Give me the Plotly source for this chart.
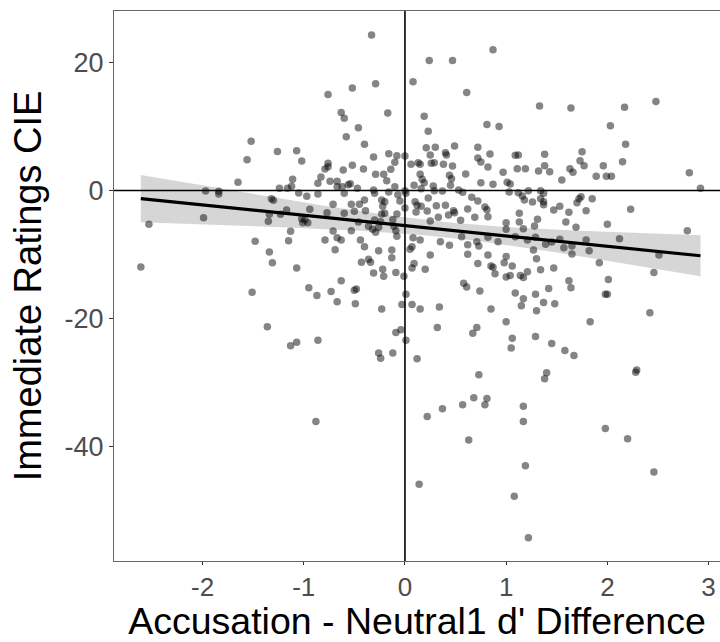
import numpy as np
import plotly.graph_objects as go

# Accusation - Neutral1 d' difference (x) and Immediate Ratings CIE (y)
x_vals = [
    -0.33, -0.76, -0.52, -0.29, -0.63, -0.60, -0.17, -0.46, -0.58, 0.87,
    0.24, 0.47, 0.08, 0.61, 0.19, 0.23, 0.81, 0.93, 1.33, 1.64,
    2.17, 2.48, 2.03, -1.52, -1.26, -1.07, -1.56, -1.02, -1.65, -1.11,
    -1.12, -1.97, -1.84, -1.84, -1.24, -1.16, -1.05, -0.97, -1.32, -1.30,
    -1.17, -0.94, -1.34, -1.23, -1.02, -0.99, -0.96, -1.01, -1.35, -1.99,
    -2.53, -1.13, -1.15, -1.48, -1.34,
    -0.40, 0.21, 0.30, 0.49, 0.72, 0.40, 0.41, 0.25, -0.16, -0.08,
    -0.31, 0.84, 1.09, 0.72, 0.00, -0.10, 0.13, 0.15, 0.26, 0.29,
    0.06, 0.38, 0.47, 0.75, 0.82, -0.76, -0.76, -0.79, -0.52, -0.41,
    -0.61, -0.14, -0.29, -0.21, -0.18, 0.15, 0.60, 0.97, 0.44, 0.46,
    0.17, 0.19, -0.83, -0.74, -0.67, -0.86, -0.67, -0.54, -0.56, -0.62,
    -0.47, -0.10, 0.09, 0.28, 0.45, 0.75, 0.87, 1.01, 1.04, -0.31,
    -0.30, -0.16, -0.07, 0.00, 0.01, 0.16, 0.29, 0.37, 0.53, 0.57,
    1.03, -0.86, -0.60, -0.23, -0.40, -0.20, -0.05, 0.10, 0.23, 0.66,
    0.72, -0.45, -0.53, -0.71, -0.22, 0.12, 0.16, 0.31, 0.40, 0.48,
    0.49, 0.62, 0.79, 0.81, 0.00, 0.11, 0.22, 0.43, 0.55, 0.33,
    0.69, 0.82, -0.23, -0.20, -0.39, -0.50, -0.60, -0.77, -0.08, -0.12,
    0.25, -0.30, -0.24, -0.46, -0.36, -0.11, 1.00, 1.00, -0.53, -0.71,
    -0.32, -0.26, -0.09, -0.29, -0.08, -0.67, -0.63, -0.79, -0.44, 0.08,
    0.15, 0.56, 0.82, 0.71, 0.73, 0.62, 0.92, 1.09, 0.35, 0.44,
    0.07, 0.05, -0.40, -0.26, -0.13, -0.69, 0.25, 0.62, 0.82, -0.13,
    -0.36, 1.00,
    1.12, 1.38, 1.75, 2.18, 1.73, 1.77, 1.96, 2.15, 1.11, 1.19,
    1.32, 1.38, 1.43, 1.63, 1.66, 1.55, 1.89, 1.99, 2.04, 2.81,
    2.92, 1.12, 1.22, 1.34, 1.37, 1.16, 1.18, 1.26, 1.34, 1.37,
    1.37, 1.74, 1.72, 1.70, 1.85, 1.53, 1.47, 1.62, 1.79, 2.23,
    1.13, 1.13, 1.31, 1.28, 1.17, 1.59, 1.69, 2.00, 2.79, 2.12,
    1.21, 1.29, 1.39, 1.45, 1.53, 1.79, 1.57, 1.65, 1.82, 1.27,
    1.65, 1.30, 2.51,
    -2.61, -1.31, -1.07, -1.51, -0.95, -1.36, -1.07, -1.13,
    -0.43, -0.34, -0.22, -0.21, -0.31, -0.09, -0.01, 0.07, 0.09, 0.20,
    -0.63, -0.73, -0.87, -0.50, -0.48, -0.67, -0.49, 0.01, -0.03, 0.07,
    0.15, 0.34, -0.23, 0.72, 0.85, 0.87, 0.98, 1.06, 0.89, 1.00,
    1.04, 0.58, 0.61, 0.74, 1.09, 0.85, 1.00, 0.71, 0.67, 0.32,
    -0.04, -0.09, 0.01, -0.86, -0.26, -0.24, -0.12, 0.12, 1.06, 1.05,
    0.73, 0.68, 0.81,
    1.14, 1.17, 1.21, 1.34, 1.47, 1.92, 1.62, 1.64, 2.01, 2.46,
    1.17, 1.29, 1.42, 1.15, 1.37, 1.48, 1.30, 1.98, 2.00, 2.42,
    1.83, 1.29, 1.45, 1.58, 1.67, 1.40, 1.38, 2.29, 2.28,
    -0.88, 0.22, 0.37, 0.57, 0.79, 0.63, 0.14, 1.08, 1.17, 1.17,
    1.98, 2.20, 1.19, 2.46, 1.22,
]

y_vals = [
    24.3, 15.0, 16.0, 16.7, 12.2, 11.3, 12.1, 9.8, 8.4, 22.0,
    20.3, 20.3, 17.0, 15.3, 11.6, 9.25, 10.3, 10.0, 13.2, 12.9,
    13.0, 13.9, 10.1, 7.7, 6.1, 6.2, 4.8, 4.6, 1.3, 1.75,
    0.66, -0.08, -0.1, -0.55, 0.34, 0.34, -0.39, -0.91, -1.28, -1.53,
    -3.05, -2.94, -3.72, -3.72, -4.41, -4.61, -5.03, -5.03, -4.81, -4.25,
    -5.28, -6.38, -7.84, -7.94, -9.61,
    7.22, 6.69, 6.75, 6.95, 6.75, 5.91, 5.55, 5.55, 5.75, 5.44,
    5.23, 5.70, 5.50, 5.08, 5.39, 4.41, 4.34, 4.09, 4.25, 4.34,
    4.09, 4.09, 3.83, 4.45, 3.67, 4.25, 3.72, 3.36, 3.94, 3.36,
    3.20, 3.31, 2.53, 2.53, 1.53, 2.53, 2.58, 2.84, 2.38, 1.84,
    1.75, 1.22, 2.11, 1.44, 1.44, 1.13, 0.59, 1.06, 0.91, 0.59,
    0.34, 0.59, 0.81, 0.70, 0.81, 1.22, 0.97, 1.28, 1.02, 0.08,
    -0.44, -0.23, -0.66, -0.03, -0.44, 0.28, -0.03, -0.08, 0.08, -0.28,
    -0.23, -0.55, -0.44, -1.48, -1.48, -1.75, -1.64, -1.75, -1.17, -1.06,
    -1.64, -2.16, -2.16, -2.16, -2.47, -2.31, -2.47, -2.38, -2.31, -3.16,
    -3.47, -2.89, -2.58, -3.00, -2.73, -3.36, -3.20, -3.83, -4.66, -4.19,
    -4.19, -4.09, -3.67, -3.56, -3.16, -3.25, -3.56, -3.47, -3.67, -4.56,
    -4.77, -4.61, -4.88, -4.92, -5.59, -5.59, -5.03, -6.06, -6.28, -6.33,
    -6.06, -5.75, -6.28, -6.53, -7.16, -7.38, -7.73, -7.73, -7.73, -7.38,
    -7.73, -7.22, -7.31, -8.00, -8.67, -8.47, -8.00, -7.22, -8.00, -8.56,
    -8.78, -9.19, -8.78, -9.41, -9.30, -9.25, -10.1, -9.97, -10.1, -10.5,
    -10.75, -10.3,
    5.55, 5.66, 6.06, 7.22, 4.66, 3.88, 3.88, 4.50, 3.41, 3.41,
    3.05, 3.88, 2.94, 3.41, 2.84, 1.64, 2.22, 2.22, 2.22, 2.78,
    0.34, -0.34, -0.03, -0.03, -0.44, -0.86, -1.48, -1.80, -1.28, -1.75,
    -2.22, -0.97, -1.28, -1.91, -1.28, -2.47, -3.05, -3.41, -3.16, -2.94,
    -3.56, -4.92, -4.50, -5.55, -5.97, -4.92, -5.75, -5.28, -6.28, -7.53,
    -7.73, -7.31, -8.41, -8.05, -7.63, -7.73, -8.94, -8.67, -9.41, -9.30,
    -9.92, -10.66, -10.1,
    -11.95, -11.3, -12.1, -15.9, -15.2, -21.3, -23.7, -24.25,
    -11.2, -11.2, -12.3, -13.4, -12.9, -12.8, -13.4, -12.1, -11.4, -12.3,
    -14.1, -15.8, -16.4, -15.6, -15.4, -17.4, -17.7, -16.2, -17.8, -17.8,
    -18.5, -18.2, -18.5, -11.4, -11.8, -12.0, -11.3, -11.8, -13.0, -13.5,
    -13.3, -14.5, -15.1, -15.7, -16.0, -18.5, -20.5, -21.4, -22.3, -21.4,
    -21.75, -22.2, -23.4, -23.4, -25.4, -26.2, -25.4, -26.3, -23.1, -24.6,
    -28.8, -32.4, -32.5,
    -13.3, -13.6, -12.7, -12.4, -12.1, -11.3, -14.1, -15.2, -13.9, -12.8,
    -16.9, -16.2, -15.3, -18.0, -17.5, -17.7, -18.8, -16.2, -16.2, -19.1,
    -20.5, -22.8, -23.9, -25.0, -25.8, -28.5, -29.4, -28.05, -28.4,
    -36.1, -35.3, -34.1, -33.5, -33.5, -39.0, -45.9, -47.8, -33.7, -36.1,
    -37.2, -38.8, -43.0, -44.0, -54.25,
]

x_ticks = [-2, -1, 0, 1, 2, 3]
y_ticks = [-40, -20, 0, 20]
x_title = "Accusation - Neutral1 d' Difference"
y_title = "Immediate Ratings CIE"

# linear model fit with 95% confidence band (as geom_smooth(method="lm"))
xa = np.array(x_vals)
ya = np.array(y_vals)
n = len(xa)
slope, intercept = np.polyfit(xa, ya, 1)
resid = ya - (intercept + slope * xa)
s = np.sqrt(np.sum(resid ** 2) / (n - 2))
sxx = np.sum((xa - xa.mean()) ** 2)
t_crit = 1.966
xg = np.linspace(xa.min(), xa.max(), 80)
yg = intercept + slope * xg
se = s * np.sqrt(1.0 / n + (xg - xa.mean()) ** 2 / sxx)
lo = yg - t_crit * se
hi = yg + t_crit * se

fig = go.Figure()
fig.add_trace(go.Scatter(
    x=np.concatenate([xg, xg[::-1]]), y=np.concatenate([hi, lo[::-1]]),
    fill="toself", fillcolor="rgba(153,153,153,0.4)", line=dict(width=0),
    mode="lines", hoverinfo="skip", showlegend=False))
fig.add_trace(go.Scatter(
    x=x_vals, y=y_vals, mode="markers",
    marker=dict(size=7.5, color="rgba(0,0,0,0.48)", line=dict(width=0)),
    showlegend=False))
fig.add_trace(go.Scatter(
    x=xg, y=yg, mode="lines", line=dict(color="black", width=3.2),
    showlegend=False))
fig.add_hline(y=0, line=dict(color="black", width=1.6))
fig.add_vline(x=0, line=dict(color="black", width=1.6))

font_family = "Liberation Sans, Arial, sans-serif"
fig.update_layout(
    width=720, height=642,
    margin=dict(l=114, r=0, t=11, b=81),
    paper_bgcolor="white", plot_bgcolor="white",
    font=dict(family=font_family),
    showlegend=False,
)
fig.update_xaxes(
    range=[-2.875, 3.113], tickvals=x_ticks, ticktext=[str(v) for v in x_ticks],
    showgrid=False, zeroline=False, showline=True, mirror=True,
    linecolor="#666666", linewidth=1,
    ticks="outside", ticklen=3, tickcolor="#333333",
    tickfont=dict(size=26, color="#4d4d4d"),
    title=dict(text=x_title, font=dict(size=37.5, color="black"), standoff=14),
)
fig.update_yaxes(
    range=[-57.9, 28.05], tickvals=y_ticks, ticktext=[str(v) for v in y_ticks],
    showgrid=False, zeroline=False, showline=True, mirror=False,
    linecolor="#666666", linewidth=1,
    ticks="outside", ticklen=4, tickcolor="#333333",
    tickfont=dict(size=27, color="#4d4d4d"),
    title=dict(text=y_title, font=dict(size=38, color="black"), standoff=11),
)

fig.write_html("out.html")
